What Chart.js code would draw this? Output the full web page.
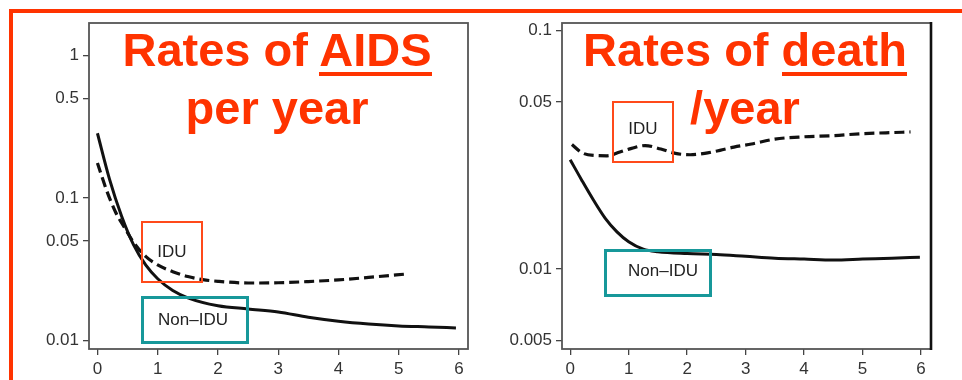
<!DOCTYPE html>
<html><head><meta charset="utf-8">
<script src="https://cdn.jsdelivr.net/npm/chart.js@4"></script>
<style>
html,body{margin:0;padding:0;background:#fff;}
#wrap{position:relative;width:962px;height:380px;overflow:hidden;background:#fff;font-family:'Liberation Sans',Arial,Helvetica,sans-serif;}
canvas{position:absolute;top:0;}
#c1{left:0;}
#c2{left:480px;}
.frameL{position:absolute;left:9px;top:9px;width:4px;height:371px;background:#ff3300;}
.frameT{position:absolute;left:9px;top:9px;width:953px;height:3.5px;background:#ff3300;}
.title{position:absolute;width:400px;text-align:center;font-weight:bold;font-size:47px;line-height:58px;color:#ff3300;top:21px;white-space:nowrap;}
.ul{position:relative;}
.ul::after{content:"";position:absolute;left:0;right:0;top:48.5px;height:4.6px;background:#ff3300;}
.lab{position:absolute;box-sizing:border-box;display:flex;align-items:center;justify-content:center;font-size:17px;color:#222;}
.idu{border:2px solid #ff4a1a;}
.non{border:3px solid #17989a;}
</style>
</head><body>
<div id="wrap">
  <canvas id="c1" width="480" height="380"></canvas>
  <canvas id="c2" width="482" height="380"></canvas>
  <div class="frameL"></div>
  <div class="frameT"></div>
  <div class="title" style="left:77px;">Rates of <span class="ul">AIDS</span><br>per year</div>
  <div class="title" style="left:545px;">Rates of <span class="ul">death</span><br>/year</div>
  <div class="lab idu" style="left:141px;top:221px;width:62px;height:62px;">IDU</div>
  <div class="lab non" style="left:141px;top:296px;width:108px;height:48px;padding-right:4px;">Non–IDU</div>
  <div class="lab idu" style="left:612px;top:101px;width:62px;height:62px;padding-bottom:6px;">IDU</div>
  <div class="lab non" style="left:604px;top:249px;width:108px;height:48px;padding-left:10px;padding-bottom:4px;">Non–IDU</div>
</div>
<script>
// ---- data ----
const xTicks = [0, 1, 2, 3, 4, 5, 6];
const xTickLabels = ['0', '1', '2', '3', '4', '5', '6'];

const aidsTicks = [0.01, 0.05, 0.1, 0.5, 1];
const aidsTickLabels = ['0.01', '0.05', '0.1', '0.5', '1'];
const deathTicks = [0.005, 0.01, 0.05, 0.1];
const deathTickLabels = ['0.005', '0.01', '0.05', '0.1'];

// AIDS rates per year
const aidsNonIduX = [0, 0.2, 0.4, 0.6, 0.8, 1.0, 1.25, 1.5, 2.0, 2.5, 3.0, 3.5, 4.0, 4.5, 5.0, 5.5, 5.95];
const aidsNonIduY = [0.285, 0.136, 0.075, 0.047, 0.034, 0.0272, 0.0225, 0.0200, 0.0176, 0.0167, 0.0159, 0.0146, 0.0137, 0.0131, 0.0127, 0.0125, 0.0123];
const aidsIduX = [0, 0.15, 0.3, 0.45, 0.6, 0.8, 1.0, 1.25, 1.5, 1.75, 2.0, 2.5, 3.0, 3.5, 4.0, 4.5, 5.15];
const aidsIduY = [0.176, 0.114, 0.080, 0.062, 0.049, 0.039, 0.0340, 0.0305, 0.0282, 0.0268, 0.0261, 0.0254, 0.0255, 0.0260, 0.0267, 0.0278, 0.0294];

// Death rates per year
const deathNonIduX = [0, 0.2, 0.4, 0.6, 0.8, 1.0, 1.25, 1.5, 2.0, 2.5, 3.0, 3.5, 4.0, 4.5, 5.0, 5.5, 5.98];
const deathNonIduY = [0.0287, 0.0235, 0.0194, 0.0163, 0.0143, 0.0130, 0.0121, 0.0118, 0.0116, 0.0115, 0.0113, 0.0111, 0.0110, 0.0109, 0.0110, 0.0111, 0.0112];
const deathIduX = [0.03, 0.2, 0.4, 0.63, 0.85, 1.05, 1.28, 1.55, 1.8, 2.05, 2.3, 2.56, 2.8, 3.1, 3.5, 4.0, 4.5, 5.0, 5.4, 5.82];
const deathIduY = [0.0332, 0.0307, 0.0299, 0.0298, 0.0309, 0.0320, 0.0329, 0.0318, 0.0305, 0.0301, 0.0305, 0.0314, 0.0324, 0.0334, 0.0350, 0.0358, 0.0362, 0.0369, 0.0372, 0.0375];

// ---- chart setup ----
Chart.defaults.font.family = "'Liberation Sans', Arial, Helvetica, sans-serif";
Chart.defaults.color = '#333';

const boxPlugin = {
  id: 'box',
  afterDraw(chart, args, opts) {
    const {ctx, chartArea: a} = chart;
    ctx.save();
    ctx.strokeStyle = opts.color || '#555';
    ctx.lineWidth = opts.width || 1.6;
    ctx.strokeRect(a.left, a.top, a.right - a.left, a.bottom - a.top);
    if (opts.rightWidth) {
      ctx.strokeStyle = opts.rightColor || '#111';
      ctx.lineWidth = opts.rightWidth;
      ctx.beginPath();
      ctx.moveTo(a.right, a.top - 1);
      ctx.lineTo(a.right, a.bottom + 1);
      ctx.stroke();
    }
    ctx.restore();
  }
};

function pts(xs, ys) { return xs.map((x, i) => ({x: x, y: ys[i]})); }

function makeChart(id, cfg) {
  return new Chart(document.getElementById(id), {
    type: 'line',
    data: {
      datasets: [
        {data: pts(cfg.nonX, cfg.nonY), borderColor: '#111', borderWidth: 3, pointRadius: 0, cubicInterpolationMode: 'monotone', fill: false},
        {data: pts(cfg.iduX, cfg.iduY), borderColor: '#111', borderWidth: 3.2, borderDash: [10, 5], pointRadius: 0, cubicInterpolationMode: 'monotone', fill: false}
      ]
    },
    options: {
      responsive: false,
      animation: false,
      layout: {padding: {left: 0, right: cfg.padRight, top: 23, bottom: 0}},
      plugins: {legend: {display: false}, tooltip: {enabled: false}, box: cfg.box},
      scales: {
        x: {
          type: 'linear', min: cfg.xMin, max: cfg.xMax,
          afterBuildTicks: s => { s.ticks = xTicks.map(v => ({value: v})); },
          ticks: {callback: (v, i) => xTickLabels[i], color: '#333', font: {size: 17}, padding: 4, maxRotation: 0, autoSkip: false},
          grid: {display: true, drawOnChartArea: false, drawTicks: true, tickLength: 6, color: '#444', lineWidth: 1.3},
          border: {display: false},
          afterFit: s => { s.height = 31; s.paddingLeft = 0; s.paddingRight = 0; }
        },
        y: {
          type: 'logarithmic', min: cfg.yMin, max: cfg.yMax,
          afterBuildTicks: s => { s.ticks = cfg.yTicks.map(v => ({value: v})); },
          ticks: {callback: (v, i) => cfg.yLabels[i], color: '#333', font: {size: 17}, padding: 4, autoSkip: false},
          grid: {display: true, drawOnChartArea: false, drawTicks: true, tickLength: 6, color: '#444', lineWidth: 1.3},
          border: {display: false},
          afterFit: s => { s.width = cfg.yWidth; s.paddingTop = 0; s.paddingBottom = 0; }
        }
      }
    },
    plugins: [boxPlugin]
  });
}

makeChart('c1', {
  nonX: aidsNonIduX, nonY: aidsNonIduY, iduX: aidsIduX, iduY: aidsIduY,
  xMin: -0.14, xMax: 6.15, yMin: 0.00875, yMax: 1.69,
  yTicks: aidsTicks, yLabels: aidsTickLabels, yWidth: 89, padRight: 12,
  box: {color: '#555', width: 1.8}
});
makeChart('c2', {
  nonX: deathNonIduX, nonY: deathNonIduY, iduX: deathIduX, iduY: deathIduY,
  xMin: -0.14, xMax: 6.17, yMin: 0.00462, yMax: 0.1073,
  yTicks: deathTicks, yLabels: deathTickLabels, yWidth: 82, padRight: 31,
  box: {color: '#555', width: 1.8, rightWidth: 2.6, rightColor: '#111'}
});
</script>
</body></html>
